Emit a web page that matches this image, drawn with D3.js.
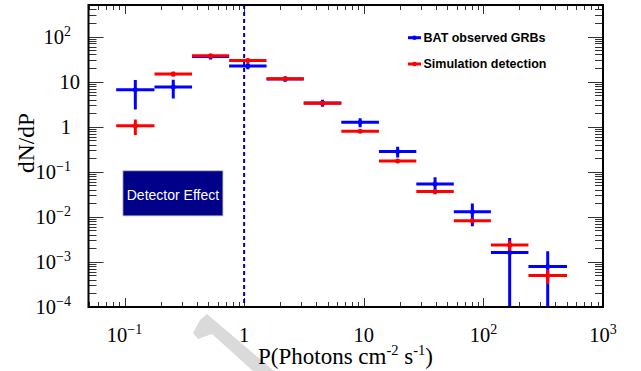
<!DOCTYPE html>
<html>
<head>
<meta charset="utf-8">
<script src="https://cdn.jsdelivr.net/npm/d3@7"></script>
<style>
  body { margin: 0; background: #fff; }
  svg { display: block; }
  .serif { font-family: "Liberation Serif", "DejaVu Serif", serif; }
  .sans { font-family: "Liberation Sans", "DejaVu Sans", sans-serif; }
</style>
</head>
<body>
<div id="chart"></div>
<script>
"use strict";

// bin edges in P (photons cm^-2 s^-1), log spaced
var binEdges = [0.0852, 0.178, 0.367, 0.749, 1.54, 3.15, 6.49, 13.4, 27.5, 56.6, 115.6, 238, 500];

// BAT observed GRBs
var batValues = [6.6, 7.6, 36, 22.2, 11.4, 3.35, 1.25, 0.283, 0.0537, 0.0130, 0.00161, 0.00079];
var batErrors = [4.2, 3.4, 5, 3.4, 1.5, 0.6, 0.28, 0.075, 0.022, 0.0068, 0.0018, 0.00093];

// simulation detection
var simValues = [1.05, 14.7, 37.5, 29.5, 11.6, 3.29, 0.787, 0.173, 0.0367, 0.00824, 0.00238, 0.000497];
var simErrors = [0.4, 1.8, 3.5, 3, 0.5, 0.15, 0.04, 0.01, 0.002, 0.0006, 0.0006, 0.00017];

var xTickValues = [0.1, 1, 10, 100, 1000];
var xTickLabels = [["10", "-1"], ["1", ""], ["10", ""], ["10", "2"], ["10", "3"]];
var yTickValues = [1e-4, 1e-3, 1e-2, 1e-1, 1, 10, 100];
var yTickLabels = [["10", "-4"], ["10", "-3"], ["10", "-2"], ["10", "-1"], ["1", ""], ["10", ""], ["10", "2"]];

var thresholdP = 1;
var seriesNames = ["BAT observed GRBs", "Simulation detection"];

var width = 641, height = 371;
var plot = { left: 88.5, right: 603, top: 5, bottom: 307 };

var svg = d3.select("#chart").append("svg")
    .attr("width", width)
    .attr("height", height);

var x = d3.scaleLog().domain([0.05, 1000]).range([plot.left, plot.right]);
var y = d3.scaleLog().domain([1e-4, 500]).range([plot.bottom, plot.top]);

// faint watermark fragment at the bottom
svg.append("path")
    .attr("d", "M200,320 L207,314 L274,371 L253,371 L212,334 L198,339 L193,333 Z")
    .attr("fill", "#dadada");

svg.append("defs").append("clipPath").attr("id", "plotClip")
    .append("rect")
    .attr("x", plot.left).attr("y", plot.top)
    .attr("width", plot.right - plot.left).attr("height", plot.bottom - plot.top);

// minor + major ticks
function logTicks(lo, hi) {
    var out = [];
    for (var e = -5; e <= 4; e++) {
        for (var m = 1; m <= 9; m++) {
            var v = m * Math.pow(10, e);
            if (v >= lo * 0.999 && v <= hi * 1.001) out.push({ v: v, major: m === 1 });
        }
    }
    return out;
}

var tickG = svg.append("g").attr("stroke", "#333").attr("stroke-width", 1);
logTicks(0.05, 1000).forEach(function (t) {
    var px = Math.round(x(t.v)) + 0.5;
    var len = t.major ? 9 : 5;
    tickG.append("line").attr("x1", px).attr("x2", px).attr("y1", plot.bottom).attr("y2", plot.bottom - len);
    tickG.append("line").attr("x1", px).attr("x2", px).attr("y1", plot.top).attr("y2", plot.top + len);
});
logTicks(1e-4, 500).forEach(function (t) {
    var py = Math.round(y(t.v)) + 0.5;
    var len = t.major ? 15 : 8;
    tickG.append("line").attr("x1", plot.left).attr("x2", plot.left + len).attr("y1", py).attr("y2", py);
    tickG.append("line").attr("x1", plot.right).attr("x2", plot.right - len).attr("y1", py).attr("y2", py);
});

// tick labels
function addPow(sel, lab, supSize, supRaise) {
    sel.append("tspan").text(lab[0]);
    if (lab[1]) {
        sel.append("tspan").attr("font-size", supSize).attr("dy", -supRaise).text(lab[1].replace("-", "\u2212"));
    }
}

xTickValues.forEach(function (v, i) {
    var t = svg.append("text")
        .attr("class", "serif")
        .attr("x", x(v)).attr("y", 342)
        .attr("text-anchor", "middle")
        .attr("font-size", 20.5).attr("fill", "#000");
    addPow(t, xTickLabels[i], 14, 8.5);
});

yTickValues.forEach(function (v, i) {
    var lab = yTickLabels[i];
    var endX = (lab[0] === "10" && !lab[1]) ? 80 : 71;
    var t = svg.append("text")
        .attr("class", "serif")
        .attr("x", endX).attr("y", y(v) + 7)
        .attr("text-anchor", "end")
        .attr("font-size", 20.5).attr("fill", "#000");
    addPow(t, lab, 14, 8);
});

// axis titles
var xt = svg.append("text")
    .attr("class", "serif")
    .attr("x", 258).attr("y", 364)
    .attr("font-size", 23).attr("fill", "#000");
xt.append("tspan").text("P(Photons cm");
xt.append("tspan").attr("font-size", 14.5).attr("dy", -9.5).text("-2");
xt.append("tspan").attr("dy", 9.5).text(" s");
xt.append("tspan").attr("font-size", 14.5).attr("dy", -9.5).text("-1");
xt.append("tspan").attr("dy", 9.5).text(")");

svg.append("text")
    .attr("class", "serif")
    .attr("transform", "translate(34,143) rotate(-90)")
    .attr("text-anchor", "middle")
    .attr("font-size", 23.5).attr("fill", "#000")
    .text("dN/dP");

// detector effect box
var box = { x0: 0.097, x1: 0.665, y0: 0.0105, y1: 0.105 };
svg.append("rect")
    .attr("x", x(box.x0)).attr("y", y(box.y1))
    .attr("width", x(box.x1) - x(box.x0)).attr("height", y(box.y0) - y(box.y1))
    .attr("fill", "#000088").attr("stroke", "#bbb").attr("stroke-width", 0.8);
svg.append("text")
    .attr("class", "sans")
    .attr("x", (x(box.x0) + x(box.x1)) / 2).attr("y", 200)
    .attr("text-anchor", "middle")
    .attr("font-size", 14).attr("fill", "#fff")
    .text("Detector Effect");

// threshold line
svg.append("line")
    .attr("x1", x(thresholdP)).attr("x2", x(thresholdP))
    .attr("y1", plot.top).attr("y2", plot.bottom)
    .attr("stroke", "#0000aa").attr("stroke-width", 2)
    .attr("stroke-dasharray", "4,3");

// histograms with error bars
function drawSeries(values, errors, color) {
    var g = svg.append("g").attr("clip-path", "url(#plotClip)");
    var bins = values.map(function (v, i) {
        return { lo: binEdges[i], hi: binEdges[i + 1], v: v, e: errors[i] };
    });
    g.selectAll("line.h").data(bins).enter().append("line")
        .attr("x1", function (d) { return x(d.lo); })
        .attr("x2", function (d) { return x(d.hi); })
        .attr("y1", function (d) { return y(d.v); })
        .attr("y2", function (d) { return y(d.v); })
        .attr("stroke", color).attr("stroke-width", 3);
    g.selectAll("line.v").data(bins).enter().append("line")
        .attr("x1", function (d) { return x(Math.sqrt(d.lo * d.hi)); })
        .attr("x2", function (d) { return x(Math.sqrt(d.lo * d.hi)); })
        .attr("y1", function (d) { return y(d.v + d.e); })
        .attr("y2", function (d) { return d.v - d.e > 0 ? y(d.v - d.e) : plot.bottom + 5; })
        .attr("stroke", color).attr("stroke-width", 3);
    g.selectAll("circle").data(bins).enter().append("circle")
        .attr("cx", function (d) { return x(Math.sqrt(d.lo * d.hi)); })
        .attr("cy", function (d) { return y(d.v); })
        .attr("r", 2.5)
        .attr("fill", color);
}
drawSeries(batValues, batErrors, "#0000ff");
drawSeries(simValues, simErrors, "#ff0000");

// frame
svg.append("rect")
    .attr("x", plot.left).attr("y", plot.top)
    .attr("width", plot.right - plot.left).attr("height", plot.bottom - plot.top)
    .attr("fill", "none").attr("stroke", "#000").attr("stroke-width", 2);

// legend
var legendColors = ["#0000ff", "#ff0000"];
seriesNames.forEach(function (name, i) {
    var ly = 37.7 + i * 26.3;
    svg.append("line")
        .attr("x1", 408).attr("x2", 421).attr("y1", ly).attr("y2", ly)
        .attr("stroke", legendColors[i]).attr("stroke-width", 3);
    svg.append("circle").attr("cx", 414.5).attr("cy", ly).attr("r", 2.2).attr("fill", legendColors[i]);
    svg.append("text")
        .attr("class", "sans")
        .attr("x", 423.5).attr("y", ly + 4)
        .attr("font-weight", "bold").attr("font-size", 12.5).attr("fill", "#000")
        .text(name);
});
</script>
</body>
</html>
